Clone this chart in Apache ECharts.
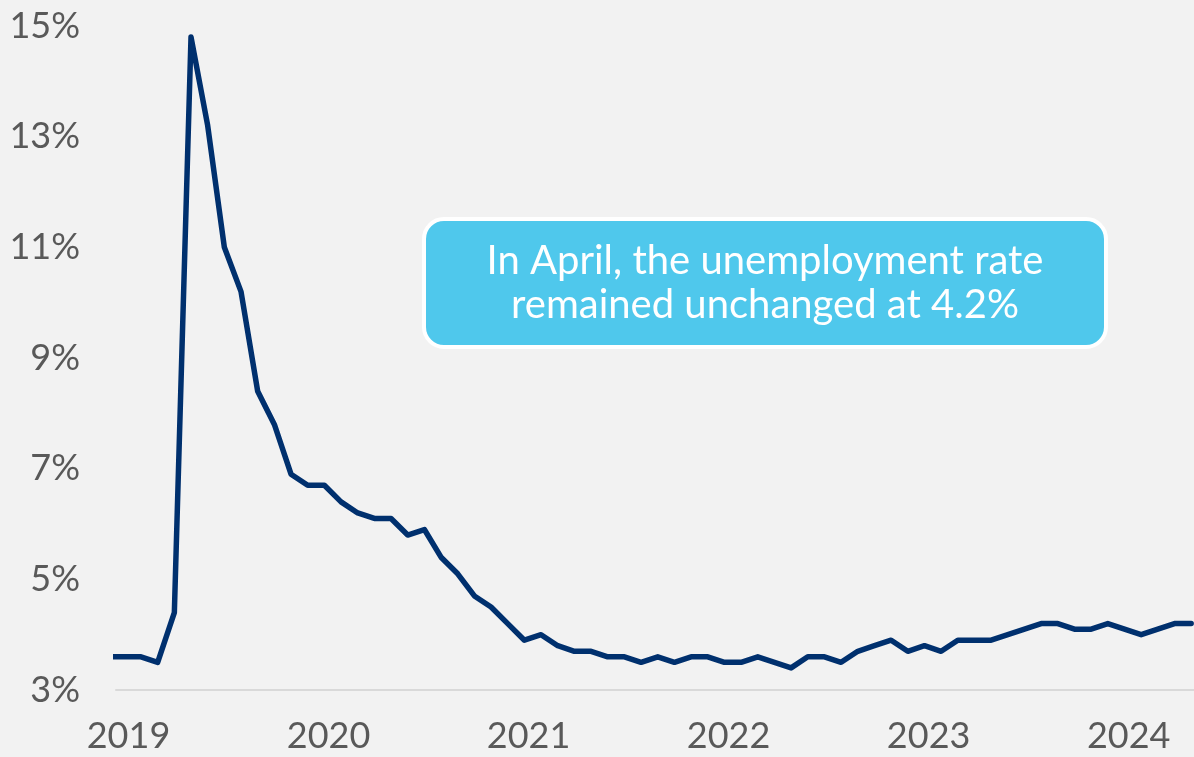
<!DOCTYPE html>
<html>
<head>
<meta charset="utf-8">
<script src="https://cdn.jsdelivr.net/npm/echarts@6/dist/echarts.min.js"></script>
<style>
  html, body { margin: 0; padding: 0; background: #F2F2F2; }
  #chart { width: 1194px; height: 757px; }
</style>
</head>
<body>
<div id="chart"></div>
<script>
// Monthly unemployment rate, Nov 2019 – Apr 2025
const months = [
  '2019-11','2019-12',
  '2020-01','2020-02','2020-03','2020-04','2020-05','2020-06','2020-07','2020-08','2020-09','2020-10','2020-11','2020-12',
  '2021-01','2021-02','2021-03','2021-04','2021-05','2021-06','2021-07','2021-08','2021-09','2021-10','2021-11','2021-12',
  '2022-01','2022-02','2022-03','2022-04','2022-05','2022-06','2022-07','2022-08','2022-09','2022-10','2022-11','2022-12',
  '2023-01','2023-02','2023-03','2023-04','2023-05','2023-06','2023-07','2023-08','2023-09','2023-10','2023-11','2023-12',
  '2024-01','2024-02','2024-03','2024-04','2024-05','2024-06','2024-07','2024-08','2024-09','2024-10','2024-11','2024-12',
  '2025-01','2025-02','2025-03','2025-04'
];
const unemploymentRate = [
  3.6, 3.6,
  3.6, 3.5, 4.4, 14.8, 13.2, 11.0, 10.2, 8.4, 7.8, 6.9, 6.7, 6.7,
  6.4, 6.2, 6.1, 6.1, 5.8, 5.9, 5.4, 5.1, 4.7, 4.5, 4.2, 3.9,
  4.0, 3.8, 3.7, 3.7, 3.6, 3.6, 3.5, 3.6, 3.5, 3.6, 3.6, 3.5,
  3.5, 3.6, 3.5, 3.4, 3.6, 3.6, 3.5, 3.7, 3.8, 3.9, 3.7, 3.8,
  3.7, 3.9, 3.9, 3.9, 4.0, 4.1, 4.2, 4.2, 4.1, 4.1, 4.2, 4.1,
  4.0, 4.1, 4.2, 4.2
];
const yearLabels = ['2019', '2020', '2021', '2022', '2023', '2024'];
const yearLabelPositions = [1.25, 13.25, 25.25, 37.25, 49.25, 61.25];
const yTicks = [3, 5, 7, 9, 11, 13, 15];
const annotationLines = ['In April, the unemployment rate', 'remained unchanged at 4.2%'];

const chart = echarts.init(document.getElementById('chart'), null, { renderer: 'canvas' });
const FONT = 'Lato, "Open Sans", sans-serif';

const option = {
  backgroundColor: '#F2F2F2',
  animation: false,
  grid: { left: 116, right: 0, top: 26, bottom: 67, containLabel: false },
  xAxis: {
    type: 'value',
    min: 0.5,
    max: 65.17,
    axisLine: { show: true, lineStyle: { color: '#D9D9D9', width: 2 } },
    axisTick: { show: false },
    splitLine: { show: false },
    axisLabel: {
      customValues: yearLabelPositions,
      formatter: function (v) {
        const idx = yearLabelPositions.indexOf(v);
        return idx >= 0 ? yearLabels[idx] : '';
      },
      color: '#595959',
      fontFamily: FONT,
      fontSize: 36,
      margin: 28,
      showMinLabel: true,
      showMaxLabel: true
    }
  },
  yAxis: {
    type: 'value',
    min: 3,
    max: 15,
    axisLine: { show: false },
    axisTick: { show: false },
    splitLine: { show: false },
    axisLabel: {
      customValues: yTicks,
      formatter: '{value}%',
      color: '#595959',
      fontFamily: FONT,
      fontSize: 36,
      margin: 36
    }
  },
  series: [{
    type: 'line',
    data: unemploymentRate.map((v, i) => [i, v]),
    symbol: 'none',
    clip: true,
    lineStyle: { color: '#00306E', width: 5.5, join: 'round', cap: 'round' }
  }],
  graphic: [{
    type: 'group',
    left: 422,
    top: 217,
    children: [{
      type: 'rect',
      shape: { x: 0, y: 0, width: 682, height: 128, r: 20 },
      style: { fill: '#4FC8EC', stroke: '#FFFFFF', lineWidth: 4 }
    }, {
      type: 'text',
      x: 341,
      y: 64,
      style: {
        text: annotationLines.join('\n'),
        fill: '#FFFFFF',
        font: '40px ' + FONT,
        align: 'center',
        verticalAlign: 'middle',
        lineHeight: 44
      }
    }]
  }]
};
chart.setOption(option);
</script>
</body>
</html>
